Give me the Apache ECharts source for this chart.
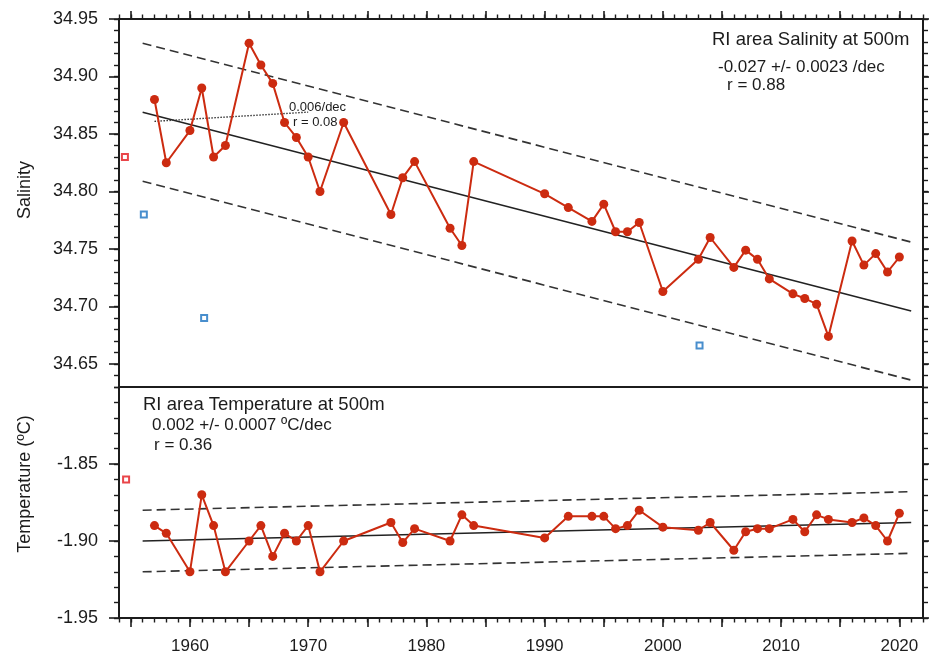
<!DOCTYPE html>
<html>
<head>
<meta charset="utf-8">
<script src="https://cdn.jsdelivr.net/npm/echarts@6/dist/echarts.min.js"></script>
<style>
  html, body { margin: 0; padding: 0; background: #fff; }
  #chart { width: 929px; height: 655px; }
</style>
</head>
<body>
<div id="chart"></div>
<script>
// Observation years shared by both profiles
const years = [1957, 1958, 1960, 1961, 1962, 1963, 1965, 1966, 1967, 1968, 1969, 1970, 1971, 1973,
  1977, 1978, 1979, 1982, 1983, 1984, 1990, 1992, 1994, 1995, 1996, 1997, 1998, 2000,
  2003, 2004, 2006, 2007, 2008, 2009, 2011, 2012, 2013, 2014, 2016, 2017, 2018, 2019, 2020];

// Salinity at 500 m
const salinity = [34.880, 34.825, 34.853, 34.890, 34.830, 34.840, 34.929, 34.910, 34.894, 34.860, 34.847, 34.830, 34.800, 34.860,
  34.780, 34.812, 34.826, 34.768, 34.753, 34.826, 34.798, 34.786, 34.774, 34.789, 34.765, 34.765, 34.773, 34.713,
  34.741, 34.760, 34.734, 34.749, 34.741, 34.724, 34.711, 34.707, 34.702, 34.674, 34.757, 34.736, 34.746, 34.730, 34.743];

// Temperature at 500 m (ºC)
const temperature = [-1.890, -1.895, -1.920, -1.870, -1.890, -1.920, -1.900, -1.890, -1.910, -1.895, -1.900, -1.890, -1.920, -1.900,
  -1.888, -1.901, -1.892, -1.900, -1.883, -1.890, -1.898, -1.884, -1.884, -1.884, -1.892, -1.890, -1.880, -1.891,
  -1.893, -1.888, -1.906, -1.894, -1.892, -1.892, -1.886, -1.894, -1.883, -1.886, -1.888, -1.885, -1.890, -1.900, -1.882];

// Linear fits and their +/- bands (endpoints of each line)
const fitYears = [1956, 2021];
const salFit = [34.869, 34.696];
const salUpper = [34.929, 34.756];
const salLower = [34.809, 34.636];
const earlyFitYears = [1957, 1970];
const salEarlyFit = [34.861, 34.869];
const tempFit = [-1.900, -1.888];
const tempUpper = [-1.880, -1.868];
const tempLower = [-1.920, -1.908];

// Isolated reference points
const salRefRed = [[1954.5, 34.830]];
const salRefBlue = [[1956.1, 34.780], [1961.2, 34.690], [2003.1, 34.666]];
const tempRefRed = [[1954.6, -1.860]];

// Axis ticks and labels
const yearMajorTicks = [1955, 1960, 1965, 1970, 1975, 1980, 1985, 1990, 1995, 2000, 2005, 2010, 2015, 2020];
const yearLabels = [1960, 1970, 1980, 1990, 2000, 2010, 2020];
const salTicks = [34.65, 34.70, 34.75, 34.80, 34.85, 34.90, 34.95];
const tempTicks = [-1.95, -1.90, -1.85];

const X_MIN = 1954, X_MAX = 2022;
const SAL_MIN = 34.63, SAL_MAX = 34.95;
const TEMP_MIN = -1.95, TEMP_MAX = -1.80;

const FONT = '"Liberation Sans", Arial, Helvetica, sans-serif';
const INK = '#1c1c1c';
const RED = '#cc2b10';

const pairs = (xs, ys) => xs.map((x, i) => [x, ys[i]]);

function xAxis(grid, position, extra) {
  return Object.assign({
    type: 'value', gridIndex: grid, position: position, min: X_MIN, max: X_MAX,
    splitLine: { show: false },
    axisLine: { show: false, onZero: false },
    axisTick: { show: false },
    axisLabel: { show: false }
  }, extra);
}
function yAxis(grid, position, min, max, extra) {
  return Object.assign({
    type: 'value', gridIndex: grid, position: position, min: min, max: max,
    splitLine: { show: false },
    axisLine: { show: false, onZero: false },
    axisTick: { show: false },
    axisLabel: { show: false }
  }, extra);
}
const lineStyleAxis = { show: true, onZero: false, lineStyle: { color: INK, width: 2 } };
const majorX = (len) => ({ show: true, inside: false, length: len, customValues: yearMajorTicks, lineStyle: { color: INK, width: 1.6 } });
const minorX = { show: true, inside: false, length: 4.5, lineStyle: { color: INK, width: 1.4 } };
const majorY = (vals) => ({ show: true, inside: false, length: 10, customValues: vals, lineStyle: { color: INK, width: 1.6 } });
const minorY = { show: true, inside: false, length: 5, lineStyle: { color: INK, width: 1.4 } };

const chart = echarts.init(document.getElementById('chart'), null, { renderer: 'canvas' });

function trend(name, xi, yi, ys, xs, type, width) {
  return {
    name: name, type: 'line', xAxisIndex: xi, yAxisIndex: yi,
    data: pairs(xs || fitYears, ys), showSymbol: false, symbol: 'none', silent: true,
    lineStyle: { color: type === 'solid' ? '#222' : '#333', width: width || 1.5, type: type },
    z: 2
  };
}
function refSquares(xi, yi, data, color) {
  return {
    type: 'scatter', xAxisIndex: xi, yAxisIndex: yi, data: data,
    symbol: 'rect', symbolSize: 6,
    itemStyle: { color: '#fff', borderColor: color, borderWidth: 2 }, z: 4
  };
}

chart.setOption({
  animation: false,
  backgroundColor: '#fff',
  grid: [
    { left: 119, top: 19, width: 804, height: 368 },
    { left: 119, top: 387, width: 804, height: 231 }
  ],
  xAxis: [
    xAxis(0, 'bottom', { axisLine: lineStyleAxis }),
    xAxis(0, 'top', { axisLine: lineStyleAxis, axisTick: majorX(8) }),
    xAxis(0, 'top', { interval: 1, axisTick: minorX }),
    xAxis(1, 'bottom', {
      axisLine: lineStyleAxis, axisTick: majorX(9),
      axisLabel: { show: true, customValues: yearLabels, margin: 20, fontSize: 17, fontFamily: FONT, color: INK, formatter: v => String(v) }
    }),
    xAxis(1, 'bottom', { interval: 1, axisTick: minorX }),
    xAxis(1, 'top', {})
  ],
  yAxis: [
    yAxis(0, 'left', SAL_MIN, SAL_MAX, {
      axisLine: lineStyleAxis, axisTick: majorY(salTicks),
      axisLabel: { show: true, customValues: salTicks, margin: 21, fontSize: 18, fontFamily: FONT, color: INK, formatter: v => v.toFixed(2) }
    }),
    yAxis(0, 'left', SAL_MIN, SAL_MAX, { interval: 0.01, axisTick: minorY }),
    yAxis(0, 'right', SAL_MIN, SAL_MAX, { axisLine: lineStyleAxis, axisTick: majorY(salTicks) }),
    yAxis(0, 'right', SAL_MIN, SAL_MAX, { interval: 0.01, axisTick: minorY }),
    yAxis(1, 'left', TEMP_MIN, TEMP_MAX, {
      axisLine: lineStyleAxis, axisTick: majorY(tempTicks),
      axisLabel: { show: true, customValues: tempTicks, margin: 21, fontSize: 18, fontFamily: FONT, color: INK, formatter: v => v.toFixed(2) }
    }),
    yAxis(1, 'left', TEMP_MIN, TEMP_MAX, { interval: 0.01, axisTick: minorY }),
    yAxis(1, 'right', TEMP_MIN, TEMP_MAX, { axisLine: lineStyleAxis, axisTick: majorY(tempTicks) }),
    yAxis(1, 'right', TEMP_MIN, TEMP_MAX, { interval: 0.01, axisTick: minorY })
  ],
  series: [
    // Salinity panel
    trend('salFit', 0, 0, salFit, null, 'solid', 1.6),
    trend('salUpper', 0, 0, salUpper, null, [9, 5], 1.6),
    trend('salLower', 0, 0, salLower, null, [9, 5], 1.6),
    trend('salEarly', 0, 0, salEarlyFit, earlyFitYears, [1.5, 1.5], 1.4),
    {
      name: 'Salinity', type: 'line', xAxisIndex: 0, yAxisIndex: 0,
      data: pairs(years, salinity), symbol: 'circle', symbolSize: 9,
      lineStyle: { color: RED, width: 2 }, itemStyle: { color: RED }, z: 3
    },
    refSquares(0, 0, salRefRed, '#e3161c'),
    refSquares(0, 0, salRefBlue, '#1a72c0'),
    // Temperature panel
    trend('tempFit', 3, 4, tempFit, null, 'solid', 1.6),
    trend('tempUpper', 3, 4, tempUpper, null, [9, 5], 1.6),
    trend('tempLower', 3, 4, tempLower, null, [9, 5], 1.6),
    {
      name: 'Temperature', type: 'line', xAxisIndex: 3, yAxisIndex: 4,
      data: pairs(years, temperature), symbol: 'circle', symbolSize: 9,
      lineStyle: { color: RED, width: 2 }, itemStyle: { color: RED }, z: 3
    },
    refSquares(3, 4, tempRefRed, '#e3161c')
  ],
  graphic: [
    { type: 'text', x: 25, y: 190, rotation: Math.PI / 2,
      style: { text: 'Salinity', font: '18px ' + FONT, fill: INK, align: 'center', verticalAlign: 'middle' } },
    { type: 'text', x: 25, y: 484, rotation: Math.PI / 2,
      style: { text: 'Temperature (ºC)', font: '18px ' + FONT, fill: INK, align: 'center', verticalAlign: 'middle' } },
    { type: 'text', x: 712, y: 40,
      style: { text: 'RI area Salinity at 500m', font: '18.5px ' + FONT, fill: INK, verticalAlign: 'middle' } },
    { type: 'text', x: 718, y: 67,
      style: { text: '-0.027 +/- 0.0023 /dec', font: '17px ' + FONT, fill: INK, verticalAlign: 'middle' } },
    { type: 'text', x: 727, y: 85,
      style: { text: 'r = 0.88', font: '17px ' + FONT, fill: INK, verticalAlign: 'middle' } },
    { type: 'text', x: 289, y: 107,
      style: { text: '0.006/dec', font: '13px ' + FONT, fill: INK, verticalAlign: 'middle' } },
    { type: 'text', x: 293, y: 122,
      style: { text: 'r = 0.08', font: '13px ' + FONT, fill: INK, verticalAlign: 'middle' } },
    { type: 'text', x: 143, y: 405,
      style: { text: 'RI area Temperature at 500m', font: '18.5px ' + FONT, fill: INK, verticalAlign: 'middle' } },
    { type: 'text', x: 152, y: 425,
      style: { text: '0.002 +/- 0.0007 ºC/dec', font: '17px ' + FONT, fill: INK, verticalAlign: 'middle' } },
    { type: 'text', x: 154, y: 445,
      style: { text: 'r = 0.36', font: '17px ' + FONT, fill: INK, verticalAlign: 'middle' } }
  ]
});
</script>
</body>
</html>
